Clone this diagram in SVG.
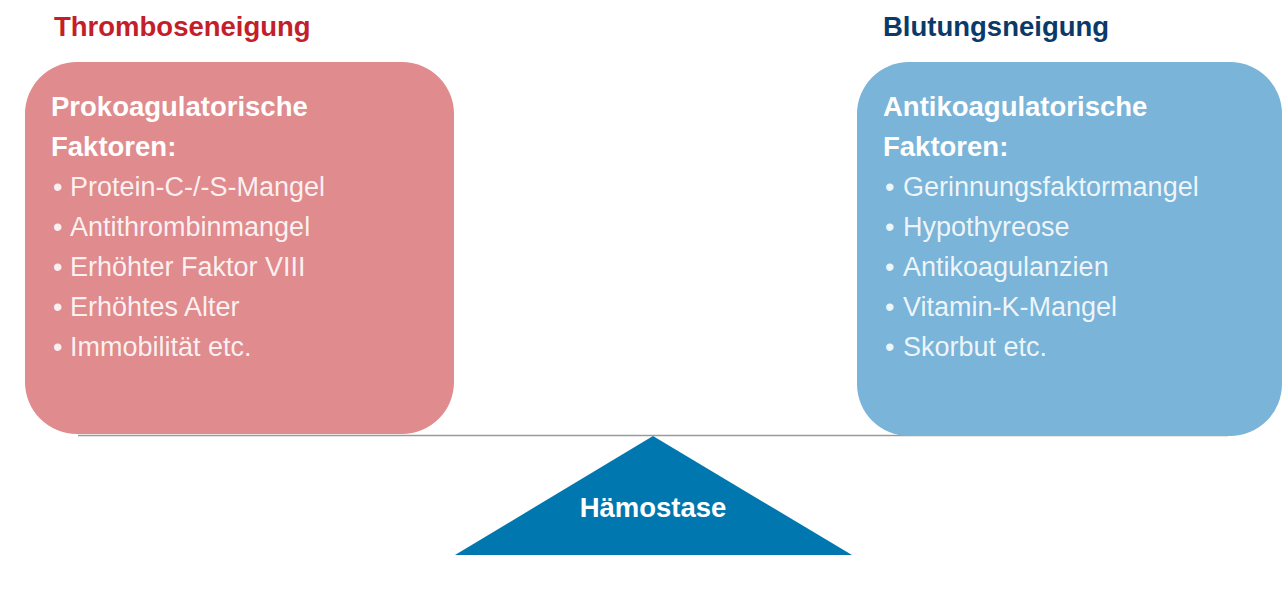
<svg xmlns="http://www.w3.org/2000/svg" width="1286" height="590" viewBox="0 0 1286 590">
<style>
text{font-family:"Liberation Sans",Arial,sans-serif;font-size:27px}
.title{font-weight:bold;font-size:27.5px}
.hd{font-weight:bold;fill:#ffffff;font-size:27.5px}
.it{fill:#ffffff;fill-opacity:0.88}
</style>
<rect width="1286" height="590" fill="#ffffff"/>
<g id="connectors">
<line x1="78" y1="435.5" x2="1228" y2="435.5" stroke="#9a9a9a" stroke-width="1.5"/>
</g>
<g id="thrombose">
<text class="title" x="54" y="36" fill="#c41e2a">Thromboseneigung</text>
<rect x="25" y="62" width="429" height="372" rx="52" fill="#e08b8e"/>
<text class="hd" x="51" y="116">Prokoagulatorische</text>
<text class="hd" x="51" y="156">Faktoren:</text>
<text class="it" y="196"><tspan x="53">•</tspan><tspan x="70">Protein-C-/-S-Mangel</tspan></text>
<text class="it" y="236"><tspan x="53">•</tspan><tspan x="70">Antithrombinmangel</tspan></text>
<text class="it" y="276"><tspan x="53">•</tspan><tspan x="70">Erhöhter Faktor VIII</tspan></text>
<text class="it" y="316"><tspan x="53">•</tspan><tspan x="70">Erhöhtes Alter</tspan></text>
<text class="it" y="356"><tspan x="53">•</tspan><tspan x="70">Immobilität etc.</tspan></text>
</g>
<g id="blutung">
<text class="title" x="883" y="36" fill="#0b3a68">Blutungsneigung</text>
<rect x="857" y="62" width="425" height="374" rx="52" fill="#7ab4d8"/>
<text class="hd" x="883" y="116">Antikoagulatorische</text>
<text class="hd" x="883" y="156">Faktoren:</text>
<text class="it" y="196"><tspan x="885">•</tspan><tspan x="903">Gerinnungsfaktormangel</tspan></text>
<text class="it" y="236"><tspan x="885">•</tspan><tspan x="903">Hypothyreose</tspan></text>
<text class="it" y="276"><tspan x="885">•</tspan><tspan x="903">Antikoagulanzien</tspan></text>
<text class="it" y="316"><tspan x="885">•</tspan><tspan x="903">Vitamin-K-Mangel</tspan></text>
<text class="it" y="356"><tspan x="885">•</tspan><tspan x="903">Skorbut etc.</tspan></text>
</g>
<g id="haemostase">
<polygon points="653,436 852,555 455,555" fill="#0077ae"/>
<text class="hd" x="653" y="517" text-anchor="middle">Hämostase</text>
</g>
</svg>
